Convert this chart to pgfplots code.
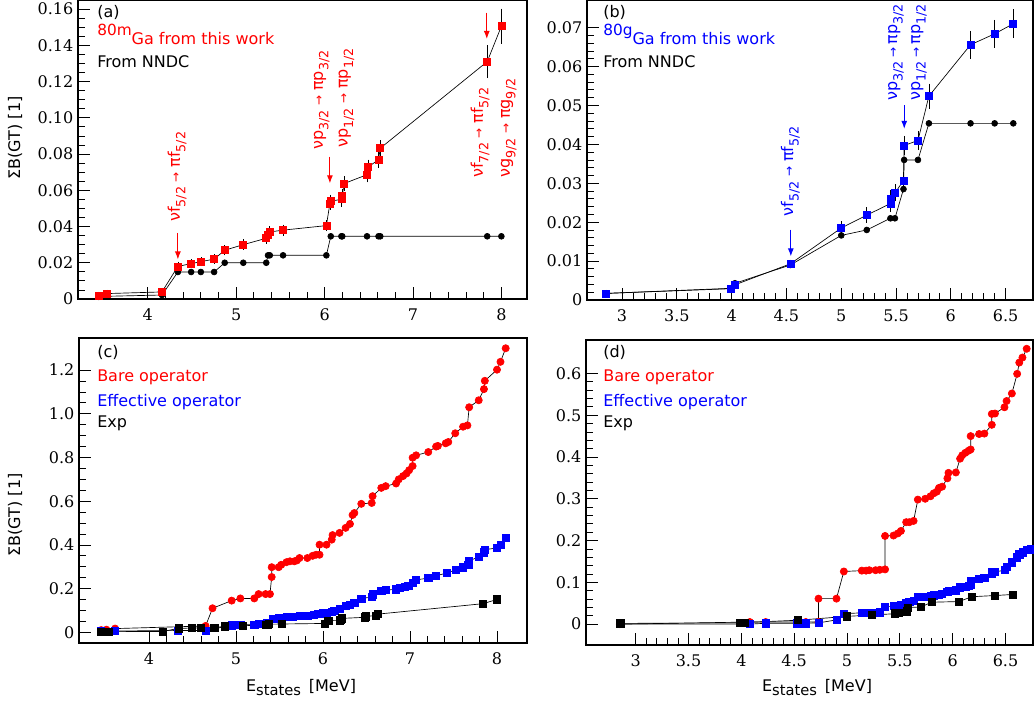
\documentclass[border=0pt]{standalone}
\usepackage{fontspec}
\setmainfont{DejaVu Sans}
\newfontfamily\tickfont{DejaVu Serif}
\usepackage{pgfplots}
\usepackage{pgfplotstable}
\pgfplotsset{compat=1.18}
\usetikzlibrary{arrows.meta}

\pgfplotstableread{
x y e
3.445 0.0020 0.0005
3.54 0.0030 0.0005
4.16 0.0039 0.0007
4.34 0.0180 0.0012
4.49 0.0195 0.0010
4.60 0.0206 0.0010
4.75 0.0220 0.0012
4.87 0.0269 0.0014
5.08 0.0300 0.0014
5.34 0.0335 0.0015
5.36 0.0355 0.0015
5.38 0.0370 0.0016
5.53 0.0380 0.0016
6.02 0.0405 0.0016
6.06 0.0527 0.0020
6.07 0.0540 0.0020
6.19 0.0550 0.0025
6.20 0.0567 0.0025
6.22 0.0637 0.0026
6.48 0.0686 0.0028
6.49 0.0727 0.0028
6.61 0.0769 0.0030
6.63 0.0832 0.0030
7.84 0.1310 0.0076
8.00 0.1505 0.0082
}\amred

\pgfplotstableread{
x y
3.445 0.0012
3.54 0.0015
4.16 0.0022
4.34 0.0149
4.49 0.0149
4.60 0.0149
4.75 0.0149
4.87 0.0200
5.08 0.0200
5.34 0.0200
5.36 0.0241
5.38 0.0241
5.53 0.0241
6.02 0.0241
6.07 0.0346
6.19 0.0346
6.20 0.0346
6.48 0.0346
6.61 0.0346
6.63 0.0346
7.84 0.0346
8.00 0.0346
}\amnndc

\pgfplotstableread{
x y e
2.855 0.0017 0.0002
3.99 0.0029 0.0003
4.03 0.0039 0.0003
4.536 0.0093 0.0004
5.00 0.0185 0.0011
5.233 0.0218 0.0013
5.449 0.0248 0.0015
5.452 0.0261 0.0015
5.49 0.0275 0.0015
5.568 0.0307 0.0016
5.574 0.0397 0.0018
5.70 0.0410 0.0018
5.80 0.0524 0.0025
6.18 0.0656 0.0029
6.40 0.0684 0.0029
6.57 0.0710 0.0030
}\bgblue

\pgfplotstableread{
x y
2.855 0.0017
3.99 0.0030
4.03 0.0043
4.536 0.0090
5.00 0.0166
5.233 0.0180
5.449 0.0210
5.49 0.0210
5.568 0.0285
5.574 0.0360
5.70 0.0360
5.80 0.0454
6.18 0.0454
6.40 0.0454
6.57 0.0454
}\bgnndc

\pgfplotstableread{
x y
3.45 0.010
3.51 0.012
3.61 0.017
4.65 0.029
4.73 0.110
4.95 0.145
5.05 0.155
5.21 0.155
5.26 0.175
5.34 0.175
5.39 0.175
5.41 0.253
5.41 0.298
5.49 0.298
5.52 0.309
5.58 0.321
5.62 0.325
5.67 0.325
5.70 0.329
5.73 0.340
5.82 0.340
5.88 0.350
5.92 0.355
5.96 0.355
5.96 0.401
6.04 0.401
6.10 0.424
6.11 0.445
6.19 0.455
6.26 0.478
6.31 0.496
6.34 0.537
6.36 0.546
6.44 0.588
6.56 0.592
6.57 0.623
6.67 0.661
6.72 0.669
6.84 0.681
6.87 0.700
6.92 0.715
6.96 0.727
6.99 0.742
7.03 0.761
7.03 0.799
7.07 0.810
7.21 0.825
7.30 0.850
7.32 0.853
7.41 0.865
7.44 0.871
7.52 0.911
7.61 0.941
7.66 0.947
7.68 1.030
7.79 1.062
7.85 1.113
7.86 1.151
8.00 1.202
8.04 1.238
8.10 1.300
}\cbare

\pgfplotstableread{
x y
3.45 0.004
3.61 0.006
4.33 0.008
4.65 0.008
4.95 0.032
5.05 0.034
5.21 0.035
5.26 0.038
5.35 0.041
5.42 0.060
5.49 0.064
5.58 0.069
5.65 0.072
5.73 0.075
5.82 0.077
5.89 0.080
5.94 0.084
6.00 0.087
6.04 0.090
6.10 0.095
6.13 0.100
6.19 0.106
6.26 0.121
6.31 0.127
6.36 0.136
6.44 0.155
6.56 0.161
6.57 0.174
6.67 0.188
6.72 0.193
6.84 0.197
6.88 0.202
6.94 0.207
6.98 0.213
7.03 0.228
7.07 0.240
7.21 0.248
7.30 0.259
7.42 0.271
7.53 0.286
7.61 0.297
7.67 0.309
7.68 0.328
7.79 0.344
7.85 0.366
7.86 0.378
8.00 0.386
8.04 0.401
8.10 0.432
}\ceff

\pgfplotstableread{
x y
2.85 0.000
4.08 0.005
4.23 0.005
4.53 0.005
4.61 0.005
4.73 0.005
4.73 0.061
4.90 0.061
4.97 0.126
5.14 0.128
5.18 0.128
5.21 0.129
5.27 0.129
5.31 0.130
5.36 0.131
5.36 0.211
5.44 0.212
5.48 0.217
5.51 0.223
5.56 0.244
5.59 0.244
5.63 0.247
5.67 0.298
5.74 0.300
5.79 0.306
5.82 0.313
5.85 0.317
5.87 0.326
5.90 0.329
5.95 0.349
5.96 0.362
6.03 0.363
6.07 0.396
6.09 0.404
6.12 0.410
6.15 0.415
6.17 0.418
6.17 0.450
6.25 0.455
6.30 0.456
6.37 0.477
6.37 0.503
6.40 0.504
6.49 0.519
6.51 0.534
6.56 0.552
6.61 0.599
6.63 0.626
6.66 0.638
6.70 0.659
}\dbare

\pgfplotstableread{
x y
2.85 0.000
4.08 0.000
4.23 0.002
4.53 0.002
4.61 0.002
4.73 0.003
4.90 0.010
4.97 0.025
5.14 0.027
5.18 0.027
5.21 0.027
5.27 0.027
5.31 0.028
5.36 0.042
5.44 0.043
5.48 0.044
5.51 0.045
5.56 0.051
5.59 0.053
5.63 0.055
5.67 0.065
5.74 0.066
5.79 0.067
5.82 0.069
5.85 0.070
5.87 0.071
5.90 0.072
5.95 0.077
5.96 0.080
6.03 0.081
6.07 0.088
6.09 0.089
6.12 0.089
6.15 0.092
6.17 0.095
6.17 0.103
6.25 0.109
6.30 0.110
6.37 0.120
6.37 0.124
6.40 0.125
6.49 0.129
6.51 0.137
6.56 0.148
6.61 0.160
6.63 0.167
6.66 0.172
6.70 0.177
6.74 0.179
}\deff

\pgfplotstableread{
x y
2.855 0.0017
3.99 0.0029
4.03 0.0039
4.536 0.0093
5.00 0.0185
5.233 0.0218
5.449 0.0248
5.452 0.0261
5.49 0.0275
5.568 0.0307
5.574 0.0397
5.70 0.0410
5.80 0.0524
6.06 0.0540
6.18 0.0656
6.40 0.0684
6.57 0.0710
}\dexp

\newcommand{\sub}[1]{\raisebox{-0.35em}{\fontsize{9.5}{10}\selectfont #1}}
\newcommand{\arr}{\hspace{3.5pt}{\fontsize{9}{9}\selectfont →}\hspace{3.5pt}}
\newcommand{\arrb}{\hspace{2.5pt}{\fontsize{9}{9}\selectfont →}\hspace{2.5pt}}

\pgfplotsset{
  rootstyle/.style={
    scale only axis,
    axis line style={line width=0.8pt},
    tick align=inside,
    xtick pos=bottom, ytick pos=left,
    major tick length=9pt, minor tick length=5pt,
    tick style={black, line width=0.6pt},
    tick label style={font=\tickfont\fontsize{12}{14}\selectfont},
    xticklabel style={yshift=-4pt},
    /pgf/number format/assume math mode=true,
  },
}
\tikzset{ann/.style={rotate=90, anchor=base west, font=\fontsize{12}{14}\selectfont, inner sep=0pt}}

\begin{document}
\begin{tikzpicture}[x=0.75pt,y=0.75pt]
\useasboundingbox (0,0) rectangle (1034,704);

% ---------------- (a)
\begin{axis}[rootstyle,
  at={(58.5pt,303.75pt)}, anchor=south west,
  width=336.75pt, height=224.25pt,
  xmin=3.21, xmax=8.29, ymin=0, ymax=0.165,
  xtick={4,5,6,7,8}, xticklabels={4,5,6,7,8}, minor x tick num=4,
  ytick={0,0.02,0.04,0.06,0.08,0.10,0.12,0.14,0.16},
  yticklabels={0,0.02,0.04,0.06,0.08,0.10,0.12,0.14,0.16}, minor y tick num=3,
]
\addplot[black, line width=0.5pt, mark=*, mark size=2.2pt, mark options={solid, fill=black}] table[x=x,y=y]{\amnndc};
\addplot[black, line width=0.5pt, mark=square*, mark size=2.6pt, mark options={solid, draw=red, fill=red},
  error bars/.cd, y dir=both, y explicit, error bar style={black, line width=0.5pt},
  error mark options={black, mark size=2pt, line width=0.5pt}] table[x=x,y=y,y error=e]{\amred};
\draw[red, line width=0.8pt, -{Latex[length=6pt,width=4.5pt]}] (axis cs:4.34,0.0365) -- (axis cs:4.34,0.0218);
\draw[red, line width=0.8pt, -{Latex[length=6pt,width=4.5pt]}] (axis cs:6.06,0.0785) -- (axis cs:6.06,0.0638);
\draw[red, line width=0.8pt, -{Latex[length=6pt,width=4.5pt]}] (axis cs:7.835,0.158) -- (axis cs:7.835,0.1435);
\node[ann, text=red] at (axis cs:4.362,0.0425) {νf\sub{5/2}\arr πf\sub{5/2}};
\node[ann, text=red] at (axis cs:5.98,0.0823) {νp\sub{3/2}\arr πp\sub{3/2}};
\node[ann, text=red] at (axis cs:6.26,0.0834) {νp\sub{1/2}\arr πp\sub{1/2}};
\node[ann, text=red] at (axis cs:7.79,0.0668) {νf\sub{7/2}\arr πf\sub{5/2}};
\node[ann, text=red] at (axis cs:8.095,0.0668) {νg\sub{9/2}\arr πg\sub{9/2}};
\end{axis}

% ---------------- (b)
\begin{axis}[rootstyle,
  at={(440.25pt,303pt)}, anchor=south west,
  width=334.5pt, height=225pt,
  xmin=2.68, xmax=6.75, ymin=0, ymax=0.0771,
  xtick={3,3.5,4,4.5,5,5.5,6,6.5}, xticklabels={3,3.5,4,4.5,5,5.5,6,6.5}, minor x tick num=4,
  ytick={0,0.01,0.02,0.03,0.04,0.05,0.06,0.07},
  yticklabels={0,0.01,0.02,0.03,0.04,0.05,0.06,0.07}, minor y tick num=4,
]
\addplot[black, line width=0.5pt, mark=*, mark size=2.2pt, mark options={solid, fill=black}] table[x=x,y=y]{\bgnndc};
\addplot[black, line width=0.5pt, mark=square*, mark size=2.6pt, mark options={solid, draw=blue, fill=blue},
  error bars/.cd, y dir=both, y explicit, error bar style={black, line width=0.5pt},
  error mark options={black, mark size=2pt, line width=0.5pt}] table[x=x,y=y,y error=e]{\bgblue};
\draw[blue, line width=0.8pt, -{Latex[length=6pt,width=4.5pt]}] (axis cs:4.54,0.0181) -- (axis cs:4.54,0.0112);
\draw[blue, line width=0.8pt, -{Latex[length=6pt,width=4.5pt]}] (axis cs:5.575,0.0500) -- (axis cs:5.575,0.0440);
\node[ann, text=blue] at (axis cs:4.56,0.0215) {νf\sub{5/2}\arr πf\sub{5/2}};
\node[ann, text=blue] at (axis cs:5.51,0.0512) {νp\sub{3/2}\arrb πp\sub{3/2}};
\node[ann, text=blue] at (axis cs:5.72,0.0512) {νp\sub{1/2}\arrb πp\sub{1/2}};
\end{axis}

% ---------------- (c)
\begin{axis}[rootstyle,
  at={(59.25pt,45.75pt)}, anchor=south west,
  width=336pt, height=228.75pt,
  xmin=3.195, xmax=8.345, ymin=-0.049, ymax=1.347,
  xtick={4,5,6,7,8}, xticklabels={4,5,6,7,8}, minor x tick num=4,
  ytick={0,0.2,0.4,0.6,0.8,1.0,1.2},
  yticklabels={0,0.2,0.4,0.6,0.8,1.0,1.2}, minor y tick num=3,
]
\addplot[black, line width=0.5pt, mark=*, mark size=2.7pt, mark options={solid, draw=red, fill=red}] table[x=x,y=y]{\cbare};
\addplot[black, line width=0.5pt, mark=square*, mark size=2.7pt, mark options={solid, draw=blue, fill=blue}] table[x=x,y=y]{\ceff};
\addplot[black, line width=0.5pt, mark=square*, mark size=2.7pt, mark options={solid, fill=black}] table[x=x,y=y]{\amred};
\end{axis}

% ---------------- (d)
\begin{axis}[rootstyle,
  at={(439.5pt,44.25pt)}, anchor=south west,
  width=335.25pt, height=228.75pt,
  xmin=2.53, xmax=6.76, ymin=-0.05, ymax=0.68,
  xtick={3,3.5,4,4.5,5,5.5,6,6.5}, xticklabels={3,3.5,4,4.5,5,5.5,6,6.5}, minor x tick num=4,
  ytick={0,0.1,0.2,0.3,0.4,0.5,0.6},
  yticklabels={0,0.1,0.2,0.3,0.4,0.5,0.6}, minor y tick num=4,
]
\addplot[black, line width=0.5pt, mark=*, mark size=2.7pt, mark options={solid, draw=red, fill=red}] table[x=x,y=y]{\dbare};
\addplot[black, line width=0.5pt, mark=square*, mark size=2.7pt, mark options={solid, draw=blue, fill=blue}] table[x=x,y=y]{\deff};
\addplot[black, line width=0.5pt, mark=square*, mark size=2.7pt, mark options={solid, fill=black}] table[x=x,y=y]{\dexp};
\end{axis}

% ---------------- texts
\begin{scope}[every node/.style={font=\fontsize{12}{14}\selectfont, inner sep=0pt}]
\node[anchor=west] at (97,692) {(a)};
\node[anchor=base west, text=red] at (97,659) {\raisebox{7pt}{\fontsize{11.5}{12}\selectfont 80m}Ga from this work};
\node[anchor=west] at (97,642) {From NNDC};
\node[anchor=west] at (603,692) {(b)};
\node[anchor=base west, text=blue] at (603,659) {\raisebox{7pt}{\fontsize{11.5}{12}\selectfont 80g}Ga from this work};
\node[anchor=west] at (603,642) {From NNDC};

\node[anchor=west] at (97,352) {(c)};
\node[anchor=west, text=red] at (97,327) {Bare operator};
\node[anchor=west, text=blue] at (97,302) {Effective operator};
\node[anchor=west] at (97,281) {Exp};
\node[anchor=west] at (603,352) {(d)};
\node[anchor=west, text=red] at (603,327) {Bare operator};
\node[anchor=west, text=blue] at (603,302) {Effective operator};
\node[anchor=west] at (603,281) {Exp};

\node[rotate=90] at (15,566) {ΣB(GT) [1]};
\node[rotate=90] at (15,189) {ΣB(GT) [1]};
\node at (301,16) {E\raisebox{-3pt}{\fontsize{11}{12}\selectfont states}\hspace{6pt}[MeV]};
\node at (817,16) {E\raisebox{-3pt}{\fontsize{11}{12}\selectfont states}\hspace{6pt}[MeV]};
\end{scope}
\end{tikzpicture}
\end{document}
